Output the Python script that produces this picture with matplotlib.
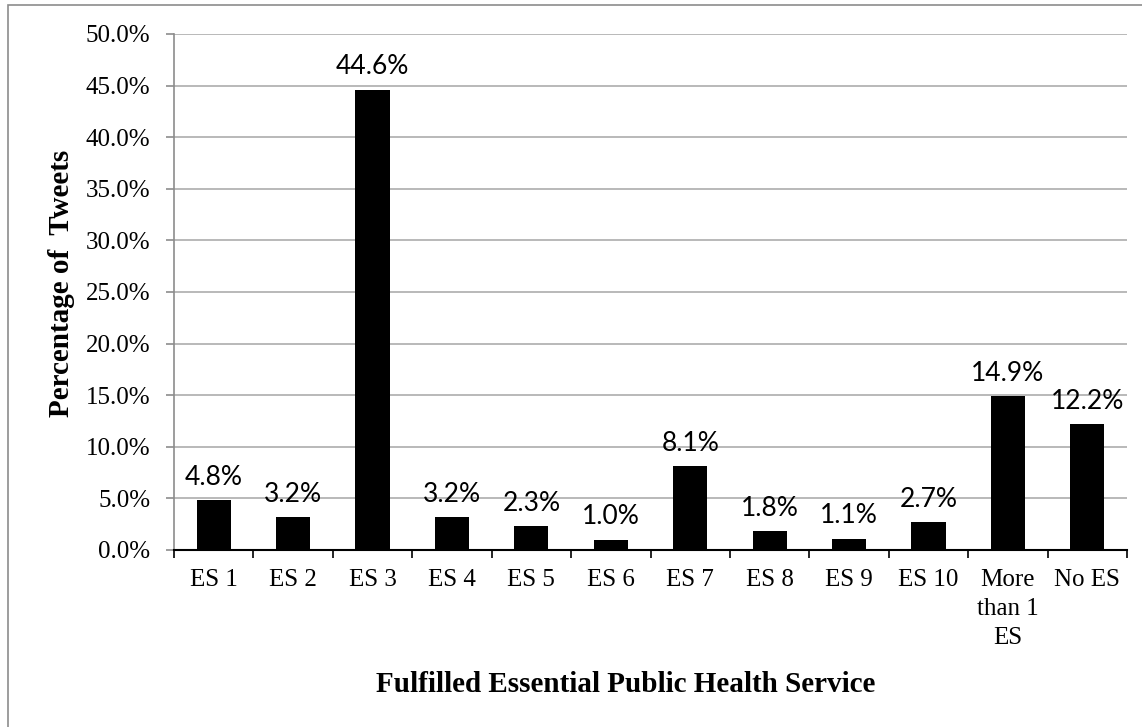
import matplotlib.pyplot as plt
from matplotlib.patches import Rectangle
import numpy as np

categories = ['ES 1', 'ES 2', 'ES 3', 'ES 4', 'ES 5', 'ES 6', 'ES 7', 'ES 8',
              'ES 9', 'ES 10', 'More\nthan 1\nES', 'No ES']
percent = [4.8, 3.2, 44.6, 3.2, 2.3, 1.0, 8.1, 1.8, 1.1, 2.7, 14.9, 12.2]
yticks = np.arange(0, 50.1, 5)

SERIF = 'Liberation Serif'
SANS = 'Lato'
W, H = 1142, 727

fig = plt.figure(figsize=(W / 100, H / 100), dpi=100)
ax = fig.add_axes([174 / W, 1 - 550 / H, 953 / W, 516 / H])

# outer chart border (only left and top edges are inside the picture)
fig.patches.append(Rectangle((8 / W, -0.1), 1.2, 1 - 5 / H + 0.1,
                             transform=fig.transFigure, fill=False,
                             edgecolor='#8c8c8c', linewidth=1.2))

x = np.arange(len(categories))
ax.bar(x, percent, width=0.43, color='black', zorder=3)

for xi, v in zip(x, percent):
    ax.annotate(f'{v:.1f}%', (xi, v), xytext=(0, 11), textcoords='offset points',
                ha='center', va='baseline', fontsize=19, family=SANS,
                color='black')

ax.set_xlim(-0.5, len(categories) - 0.5)
ax.set_ylim(0, 50)
ax.set_yticks(yticks)
ax.set_yticklabels([f'{t:.1f}%' for t in yticks], family=SERIF, fontsize=18)
ax.yaxis.grid(True, color='#a6a6a6', linewidth=1.1, zorder=0)

ax.set_xticks(x)
ax.set_xticklabels(categories, family=SERIF, fontsize=18, linespacing=1.4)
ax.set_xticks(np.arange(-0.5, len(categories), 1), minor=True)
ax.tick_params(axis='x', which='major', length=0, pad=14)
ax.tick_params(axis='x', which='minor', length=6, width=1.2, color='black')
ax.tick_params(axis='y', length=6, width=1.2, color='#8c8c8c', pad=11)

for s in ['top', 'right']:
    ax.spines[s].set_visible(False)
ax.spines['left'].set_color('#8c8c8c')
ax.spines['left'].set_linewidth(1.2)
ax.spines['bottom'].set_color('black')
ax.spines['bottom'].set_linewidth(1.5)
ax.spines['bottom'].set_zorder(4)

fig.text(62 / W, 1 - 283 / H, 'Percentage of  Tweets', family=SERIF,
         fontsize=21, fontweight='bold', rotation=90, ha='center', va='center')
fig.text(626 / W, 1 - 692 / H, 'Fulfilled Essential Public Health Service',
         family=SERIF, fontsize=21, fontweight='bold', ha='center',
         va='baseline')

fig.savefig('out.png', dpi=100)
